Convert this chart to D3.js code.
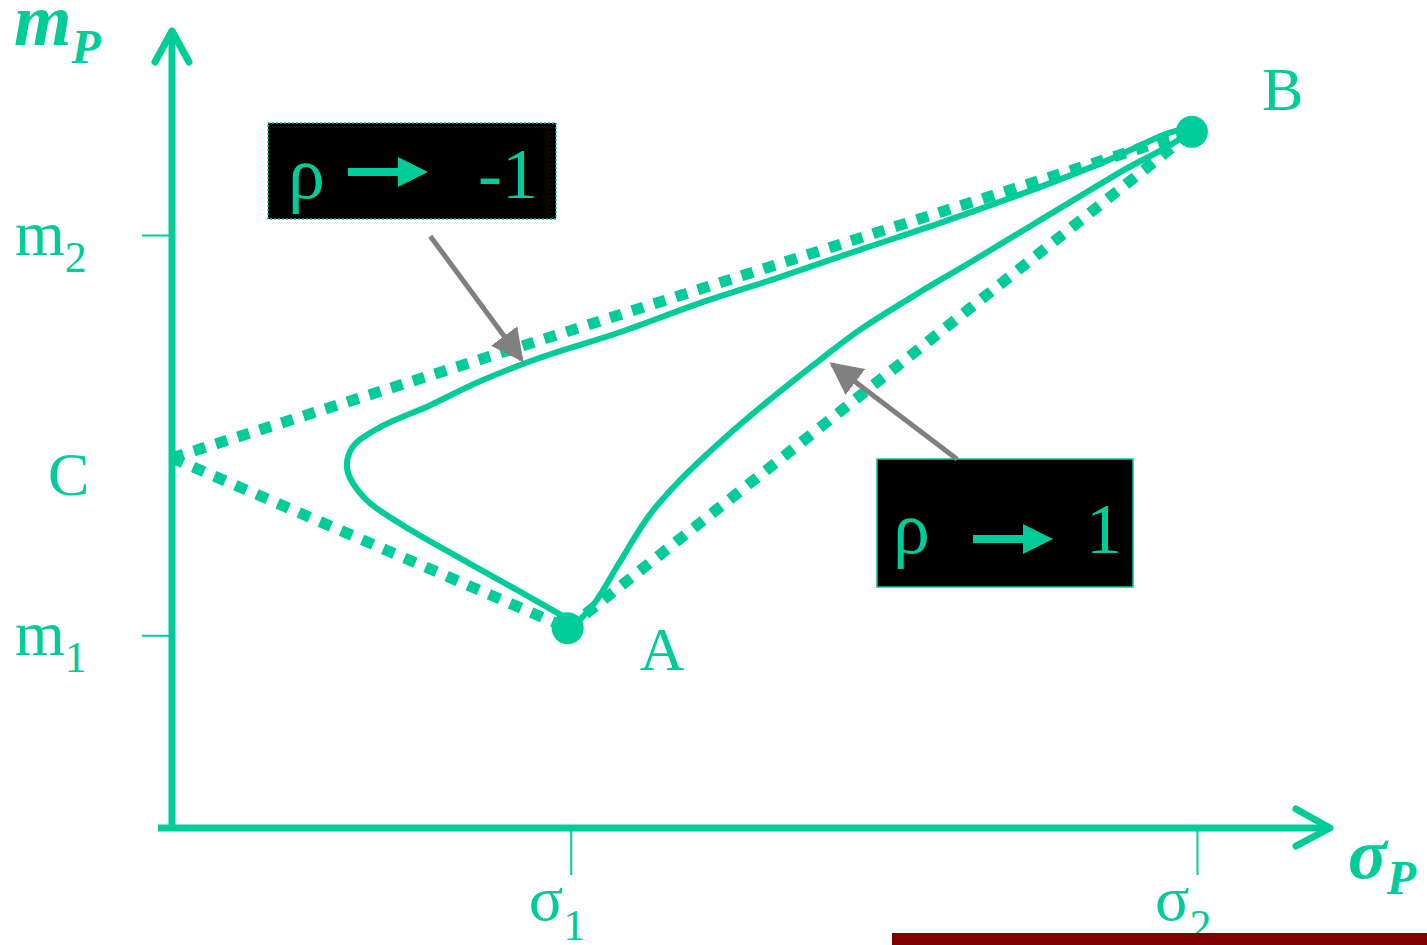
<!DOCTYPE html>
<html>
<head>
<meta charset="utf-8">
<script src="https://cdn.jsdelivr.net/npm/d3@7"></script>
<style>
  body { margin:0; background:#fff; }
  svg { display:block; }
</style>
</head>
<body>
<div id="chart"></div>
<script>
// data, in chart units (sigma across, mean up)
var xTickValues = [38.9, 100]
var xTickSubs = ["1", "2"]
var yTickValues = [32.5, 100]
var yTickSubs = ["1", "2"]

var pointNames = ["A", "B", "C"]
var pointX = [38.6, 99.5, 0]
var pointY = [33.7, 117.4, 62.4]

// dotted limits: rho -> -1 (C legs) and rho -> 1 (A-B)
var dottedFrom = ["C", "C", "A"]
var dottedTo = ["A", "B", "B"]

// feasible curve for intermediate rho, A -> bulge -> B -> A
var curveX = [38.8, 34.0, 28.1, 22.2, 18.8, 17.1, 17.6, 20.3, 25.2, 30.0, 35.9, 43.7, 51.5, 59.3, 67.1, 74.9, 82.7, 90.5, 98.4,
              98.6, 92.5, 84.7, 77.9, 73.0, 67.1, 63.2, 58.3, 53.5, 49.6, 46.6, 43.7, 41.3, 39.3]
var curveY = [35.1, 39.8, 45.5, 51.4, 55.6, 60.4, 64.2, 67.6, 71.3, 75.3, 79.3, 83.6, 88.5, 92.9, 97.5, 102.0, 106.8, 112.0, 117.6,
              116.8, 110.6, 102.5, 95.4, 90.4, 84.0, 78.9, 72.2, 65.1, 58.7, 52.8, 44.9, 38.1, 34.2]

var boxLabels = ["-1", "1"]
var arrowFromX = [25.2, 76.6], arrowFromY = [99.8, 62.2]
var arrowToX = [34.1, 64.4], arrowToY = [79.0, 78.2]

var width = 1427, height = 945
var teal = "#00cc99"
var serif = '"Liberation Serif", "Times New Roman", Times, serif'
var x = d3.scaleLinear().domain([0, 100]).range([172, 1197])
var y = d3.scaleLinear().domain([0, 100]).range([828, 235])

var svg = d3.select('#chart').append('svg').attr('width', width).attr('height', height)
  .attr('font-family', serif)

svg.append('defs').append('marker')
  .attr('id', 'grayhead').attr('viewBox', '0 0 10 10')
  .attr('refX', 9).attr('refY', 5)
  .attr('markerWidth', 6.5).attr('markerHeight', 6.5)
  .attr('markerUnits', 'strokeWidth')
  .attr('orient', 'auto')
  .append('path').attr('d', 'M0,0 L10,5 L0,10 Z').attr('fill', '#808080')

// axes
svg.append('line').attr('x1', x(0)).attr('x2', x(0)).attr('y1', 30).attr('y2', y(0))
  .attr('stroke', teal).attr('stroke-width', 7)
svg.append('line').attr('x1', 158).attr('x2', 1330).attr('y1', y(0)).attr('y2', y(0))
  .attr('stroke', teal).attr('stroke-width', 7)
svg.append('path').attr('d', 'M155,62 L172,31 L189,62')
  .attr('fill', 'none').attr('stroke', teal).attr('stroke-width', 7)
  .attr('stroke-linecap', 'round').attr('stroke-linejoin', 'round')
svg.append('path').attr('d', 'M1296,809 L1330,828 L1296,846')
  .attr('fill', 'none').attr('stroke', teal).attr('stroke-width', 7)
  .attr('stroke-linecap', 'round').attr('stroke-linejoin', 'round')

// ticks
var yAxis = svg.append('g').attr('transform', 'translate(' + x(0) + ',0)')
  .call(d3.axisLeft(y).tickValues(yTickValues).tickSize(30).tickFormat(''))
yAxis.select('.domain').remove()
yAxis.selectAll('line').attr('stroke', teal).attr('stroke-width', 2)

var xAxis = svg.append('g').attr('transform', 'translate(0,' + y(0) + ')')
  .call(d3.axisBottom(x).tickValues(xTickValues).tickSize(47).tickFormat(''))
xAxis.select('.domain').remove()
xAxis.selectAll('line').attr('stroke', teal).attr('stroke-width', 2)

yTickValues.forEach(function(v, i){
  var t = svg.append('text').attr('x', 15).attr('y', y(v) + 20)
    .attr('fill', teal).attr('font-size', 64)
  t.append('tspan').text('m')
  t.append('tspan').attr('font-size', 44).attr('dy', 17).text(yTickSubs[i])
})
xTickValues.forEach(function(v, i){
  var t = svg.append('text').attr('x', x(v) - 42).attr('y', 920)
    .attr('fill', teal).attr('font-size', 64)
  t.append('tspan').text('σ')
  t.append('tspan').attr('font-size', 44).attr('dy', 20).text(xTickSubs[i])
})

// axis titles
var mt = svg.append('text').attr('x', 14).attr('y', 45).attr('fill', teal)
  .attr('font-size', 74).attr('font-weight', 'bold').attr('font-style', 'italic')
mt.append('tspan').text('m')
mt.append('tspan').attr('font-size', 48).attr('dy', 18).text('P')
var st = svg.append('text').attr('x', 1348).attr('y', 878).attr('fill', teal)
  .attr('font-size', 72).attr('font-weight', 'bold').attr('font-style', 'italic')
st.append('tspan').text('σ')
st.append('tspan').attr('font-size', 48).attr('dy', 16).text('P')

// dotted limit lines
function idx(n){ return pointNames.indexOf(n) }
dottedFrom.forEach(function(f, i){
  var a = idx(f), b = idx(dottedTo[i])
  svg.append('line')
    .attr('x1', x(pointX[a])).attr('y1', y(pointY[a]))
    .attr('x2', x(pointX[b])).attr('y2', y(pointY[b]))
    .attr('stroke', teal).attr('stroke-width', 11)
    .attr('stroke-dasharray', '12,11')
})

// curve
var curvePts = curveX.map(function(d, i){ return [d, curveY[i]] })
svg.append('path').datum(curvePts)
  .attr('d', d3.line().x(function(d){ return x(d[0]) }).y(function(d){ return y(d[1]) }).curve(d3.curveCatmullRom))
  .attr('fill', 'none').attr('stroke', teal).attr('stroke-width', 6)

// points A, B and labels
var labelDx = [72, 70, -124], labelDy = [42, -22, 37]
pointNames.forEach(function(n, i){
  if (n != 'C') {
    svg.append('circle').attr('cx', x(pointX[i])).attr('cy', y(pointY[i])).attr('r', 16).attr('fill', teal)
  }
  svg.append('text').attr('x', x(pointX[i]) + labelDx[i]).attr('y', y(pointY[i]) + labelDy[i])
    .attr('fill', teal).attr('font-size', 62).text(n)
})

// annotation boxes
var boxes = [
  {x: 268, y: 123, w: 288, h: 96, dash: '2,2', rho: 288, ax: 348, ay: 172, lab: 478, base: 198},
  {x: 877, y: 459, w: 256, h: 128, dash: null, rho: 893, ax: 973, ay: 539, lab: 1086, base: 553}
]
boxes.forEach(function(b, i){
  var g = svg.append('g')
  g.append('rect').attr('x', b.x).attr('y', b.y).attr('width', b.w).attr('height', b.h)
    .attr('fill', '#000').attr('stroke', teal).attr('stroke-width', 1.5)
    .attr('stroke-dasharray', b.dash)
  g.append('text').attr('x', b.rho).attr('y', b.base).attr('fill', teal).attr('font-size', 74).text('ρ')
  g.append('line').attr('x1', b.ax).attr('x2', b.ax + 54).attr('y1', b.ay).attr('y2', b.ay)
    .attr('stroke', teal).attr('stroke-width', 8)
  g.append('path').attr('d', 'M' + (b.ax + 50) + ',' + (b.ay - 15) + ' L' + (b.ax + 80) + ',' + b.ay + ' L' + (b.ax + 50) + ',' + (b.ay + 15) + ' Z')
    .attr('fill', teal)
  g.append('text').attr('x', b.lab).attr('y', b.base).attr('fill', teal).attr('font-size', 72).text(boxLabels[i])
})

// gray pointer arrows
arrowFromX.forEach(function(v, i){
  svg.append('line')
    .attr('x1', x(v)).attr('y1', y(arrowFromY[i]))
    .attr('x2', x(arrowToX[i])).attr('y2', y(arrowToY[i]))
    .attr('stroke', '#808080').attr('stroke-width', 5)
    .attr('marker-end', 'url(#grayhead)')
})

// footer bar
svg.append('rect').attr('x', 892).attr('y', 933).attr('width', 535).attr('height', 12).attr('fill', '#7f0000')
</script>
</body>
</html>
